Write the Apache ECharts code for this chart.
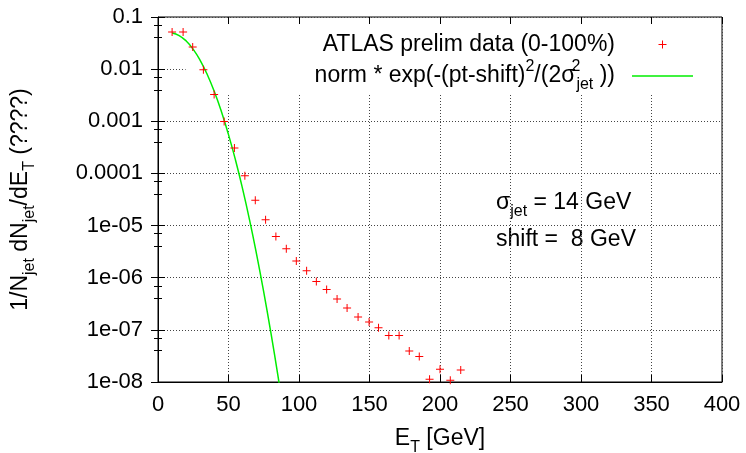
<!DOCTYPE html>
<html>
<head>
<meta charset="utf-8">
<script src="https://cdn.jsdelivr.net/npm/echarts@6/dist/echarts.min.js"></script>
<style>
  html, body { margin: 0; padding: 0; background: #fff; }
  #graph { width: 746px; height: 453px; }
</style>
</head>
<body>
<div id="graph"></div>
<script>
"use strict"

// ATLAS points
const dataX = [10.0, 17.8, 24.6, 32.2, 39.8, 46.9, 54.2, 61.6, 69.0, 76.3, 83.6, 91.0, 98.1, 105.4, 112.3,
    119.6, 127.0, 134.1, 141.9, 149.7, 156.4, 163.7, 171.0, 178.2, 185.3, 192.6, 200.0, 207.3, 214.7];
const dataY = [0.0516, 0.0516, 0.0265, 0.0097, 0.00325, 0.000995, 3.08e-4, 9.06e-5, 3.07e-5, 1.29e-5,
    6.2e-6, 3.6e-6, 2.09e-6, 1.36e-6, 8.45e-7, 5.93e-7, 3.92e-7, 2.63e-7, 1.77e-7, 1.41e-7,
    1.10e-7, 7.83e-8, 7.83e-8, 3.95e-8, 3.08e-8, 1.13e-8, 1.76e-8, 1.08e-8, 1.70e-8];

// green gaussian curve, sampled along the drawn line
const curveX = [10, 15, 20, 25, 30, 35, 40, 45, 50, 55, 60, 65, 70, 75, 80, 85, 87];
const curveY = [0.0495, 0.0441, 0.0346, 0.0239, 0.01455, 0.00779, 0.00367, 0.00152, 5.55e-4,
    1.79e-4, 5.05e-5, 1.26e-5, 2.75e-6, 5.3e-7, 9.0e-8, 1.35e-8, 6.1e-9];

const yTickLabels = ["1e-08", "1e-07", "1e-06", "1e-05", "0.0001", "0.001", "0.01", "0.1"];
const seriesNames = ["data", "fit"];
const legendText = {
    data: "{b|ATLAS prelim data (0-100%)}{g| }",
    fit: "{b|norm * exp(-(pt-shift)}{p|2}{b|/(2σ}{p0|2}{s|jet}{b| ))}{g| }"
};

const font = "'Liberation Sans', Arial, Helvetica, sans-serif";
const rich = {
    b: { fontSize: 23, fontFamily: font, lineHeight: 34, verticalAlign: "middle", color: "#000" },
    s: { fontSize: 16, fontFamily: font, lineHeight: 22, verticalAlign: "bottom", color: "#000" },
    p: { fontSize: 16, fontFamily: font, lineHeight: 16, verticalAlign: "top", color: "#000" },
    p0: { fontSize: 16, fontFamily: font, lineHeight: 16, verticalAlign: "top", color: "#000", width: 1, align: "left" },
    g: { fontSize: 10, width: 12 }
};

const plus = "path://M0,3.5H8V4.5H0Z M3.5,0H4.5V8H3.5Z";
const dash = "path://M0,0H40V1H0Z";
const dotted = { color: "#444", type: [1, 2], width: 1 };
const tickLen = 7;

const myChart = echarts.init(document.getElementById("graph"), null, { renderer: "canvas" });

const option = {
    animation: false,
    backgroundColor: "#fff",
    grid: {
        left: 158, right: 24, top: 17, bottom: 71,
        containLabel: false, outerBoundsMode: "none",
        show: true, borderColor: "#000", borderWidth: 1
    },
    legend: {
        orient: "vertical",
        align: "right",
        right: 25,
        top: 18,
        padding: [15, 28, 0, 129],
        itemGap: 3,
        itemWidth: 61,
        itemHeight: 8,
        backgroundColor: "#fff",
        data: [{ name: "data", icon: plus }, { name: "fit", icon: dash }],
        formatter: name => legendText[name],
        textStyle: { fontFamily: font, fontSize: 23, color: "#000", rich: rich }
    },
    xAxis: [{
        type: "value",
        min: 0, max: 400, interval: 50,
        name: "{b|E}{s|T}{b| [GeV]}",
        nameLocation: "middle",
        nameGap: 40,
        nameTextStyle: { rich: rich },
        axisLine: { lineStyle: { color: "#000" } },
        axisTick: { inside: true, length: tickLen, lineStyle: { color: "#000" } },
        axisLabel: { margin: 12, fontFamily: font, fontSize: 22, color: "#000" },
        splitLine: { show: true, lineStyle: dotted }
    }, {
        type: "value", position: "top",
        min: 0, max: 400, interval: 50, z: 10,
        axisLine: { show: false },
        axisTick: { inside: true, length: tickLen, lineStyle: { color: "#000" } },
        axisLabel: { show: false },
        splitLine: { show: false }
    }],
    yAxis: [{
        type: "log", logBase: 10,
        min: 1e-8, max: 0.1, splitNumber: 7,
        name: "{b|1/N}{s|jet}{b| dN}{s|jet}{b|/dE}{s|T}{b| (????)}",
        nameLocation: "middle",
        nameRotate: 90,
        nameGap: 120,
        nameTextStyle: { rich: rich },
        axisLine: { lineStyle: { color: "#000" } },
        axisTick: { inside: true, length: tickLen, lineStyle: { color: "#000" } },
        minorTick: { show: true, splitNumber: 3, length: 4, lineStyle: { color: "#000" } },
        axisLabel: {
            margin: 15, fontFamily: font, fontSize: 22, color: "#000",
            formatter: v => yTickLabels[Math.round(Math.log10(v)) + 8]
        },
        splitLine: { show: true, lineStyle: dotted }
    }, {
        type: "log", logBase: 10, position: "right",
        min: 1e-8, max: 0.1, splitNumber: 7, z: 10,
        axisLine: { show: false },
        axisTick: { inside: true, length: tickLen, lineStyle: { color: "#000" } },
        minorTick: { show: true, splitNumber: 3, length: 4, lineStyle: { color: "#000" } },
        axisLabel: { show: false },
        splitLine: { show: false }
    }],
    graphic: [{
        type: "text", left: 496, top: 191,
        style: { text: "{b|σ}{s|jet}{b| = 14 GeV}", rich: rich }
    }, {
        type: "text", left: 496, top: 228,
        style: { text: "{b|shift =  8 GeV}", rich: rich }
    }],
    series: [{
        name: seriesNames[1],
        type: "line",
        z: 6,
        data: curveX.map((x, i) => [x, curveY[i]]),
        symbol: "none",
        smooth: true,
        clip: true,
        lineStyle: { color: "#00ee00", width: 1.5 },
        itemStyle: { color: "#00ee00" }
    }, {
        name: seriesNames[0],
        type: "scatter",
        z: 7,
        data: dataX.map((x, i) => [x, dataY[i]]),
        symbol: plus,
        symbolSize: 8,
        itemStyle: { color: "#ff0000", opacity: 1 }
    }]
};

myChart.setOption(option);
</script>
</body>
</html>
